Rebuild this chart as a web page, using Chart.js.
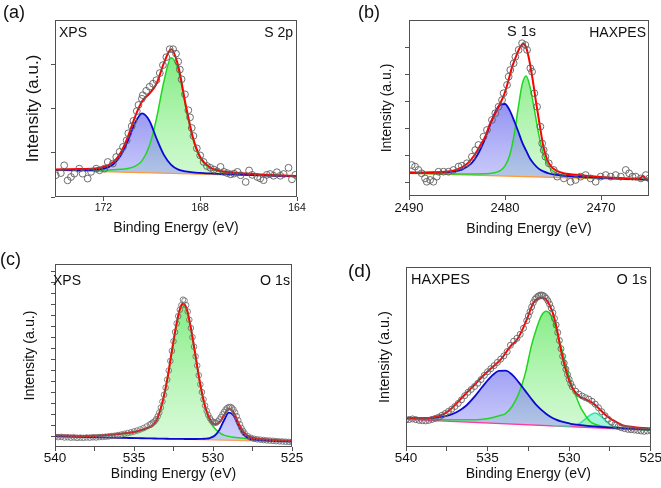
<!DOCTYPE html>
<html><head><meta charset="utf-8">
<script src="https://cdn.jsdelivr.net/npm/chart.js@4.4.1/dist/chart.umd.min.js"></script>
<style>
html,body{margin:0;padding:0;background:#fff;}
#wrap{position:relative;width:661px;height:488px;overflow:hidden;font-family:"Liberation Sans",Arial,sans-serif;color:#111;}
canvas{position:absolute;}
.lbl{position:absolute;line-height:1;white-space:nowrap;}
</style></head><body>
<div id="wrap">
<canvas id="ca" width="330" height="244" style="left:0;top:0"></canvas>
<canvas id="cb" width="331" height="244" style="left:330px;top:0"></canvas>
<canvas id="cc" width="330" height="244" style="left:0;top:244px"></canvas>
<canvas id="cd" width="331" height="244" style="left:330px;top:244px"></canvas>
<div class="lbl" style="left:3px;top:3px;font-size:18px">(a)</div>
<div class="lbl" style="left:59px;top:25px;font-size:14px">XPS</div>
<div class="lbl" style="right:368px;top:25px;font-size:14px">S 2p</div>
<div class="lbl" style="left:358px;top:3px;font-size:18px">(b)</div>
<div class="lbl" style="left:507px;top:23.5px;font-size:14.5px">S 1s</div>
<div class="lbl" style="right:15px;top:25px;font-size:14px">HAXPES</div>
<div class="lbl" style="left:0px;top:250px;font-size:18px">(c)</div>
<div class="lbl" style="left:53px;top:273px;font-size:14px">XPS</div>
<div class="lbl" style="right:371px;top:273px;font-size:14.2px">O 1s</div>
<div class="lbl" style="left:348px;top:260.5px;font-size:19px">(d)</div>
<div class="lbl" style="left:411px;top:272px;font-size:14.5px">HAXPES</div>
<div class="lbl" style="right:14px;top:272px;font-size:14.5px">O 1s</div>
</div>
<script>
// ---------- (a) XPS S 2p ----------
const aFitX  = [174,173,172.4,172,171.6,171.3,171.0,170.7,170.4,170.1,169.8,169.5,169.2,168.9,168.6,168.3,168.0,167.6,167.2,166.5,165.5,164];
const aBlue  = [15.3,15.25,15.4,16.0,18.4,23.1,31.4,41.6,47.2,43.1,32.9,23.8,18.2,15.5,14.5,13.9,13.6,13.3,13.0,12.65,12.2,11.6];
const aGreen = [15.3,15.15,15.14,15.2,15.36,15.65,16.15,17.35,20.54,28.94,44.73,65.23,78.62,71.32,50.81,32.7,21.9,16.26,14.42,13.38,12.52,11.8];
const aRed   = [15.6,15.75,16.08,16.94,19.56,24.65,33.55,45.05,54.04,58.44,64.13,75.63,83.52,73.62,52.15,33.6,22.6,16.8,14.82,13.65,12.69,11.9];
const aBaseX = [174,164];
const aBase  = [15.0,11.5];
const aDataX = [173.97,173.76,173.62,173.48,173.34,173.2,173.0,172.86,172.65,172.51,172.3,172.16,171.96,171.82,171.61,171.47,171.33,171.19,171.04,170.97,170.83,170.76,170.62,170.55,170.41,170.37,170.23,170.09,169.95,169.81,169.67,169.54,169.4,169.26,169.12,169.0,168.91,168.84,168.77,168.63,168.49,168.42,168.35,168.28,168.14,168.0,167.86,167.72,167.58,167.44,167.3,167.16,167.02,166.88,166.74,166.6,166.46,166.33,166.12,165.98,165.85,165.64,165.52,165.38,165.25,165.11,164.97,164.83,164.69,164.55,164.35,164.21,164.07];
const aDataY = [12.3,13.5,17.9,9.4,11.3,13.2,16.0,13.2,10.4,14.2,16.0,15.1,16.0,19.8,18.9,22.6,25.5,28.3,32.0,36.0,40.0,43.0,48.5,52.0,55.5,57.5,60.0,62.3,64.0,66.0,70.0,74.5,79.0,83.5,83.5,81.0,76.5,72.0,66.5,58.0,49.0,45.0,39.0,34.5,27.5,23.5,19.8,17.5,16.5,15.5,14.5,17.0,14.2,13.5,12.8,13.2,14.2,12.3,8.5,15.0,12.5,11.3,10.5,9.5,12.5,13.0,12.0,14.0,12.0,13.0,16.5,10.0,12.5];
const aXTicks = [172,168,164];
const aXLabels = [172,168,164];
const aYTicks = [0,25,50,75];

// ---------- (b) HAXPES S 1s ----------
const bFitX  = [2490,2488,2486.5,2485.5,2484.5,2483.5,2482.8,2482.2,2481.6,2481.0,2480.5,2480.0,2479.5,2479.0,2478.6,2478.2,2477.8,2477.4,2477.0,2476.5,2476.0,2475.4,2474.6,2473.5,2472,2470,2467.5,2465];
const bBlue  = [13.35,13.3,13.4,13.79,14.96,18.51,24.01,30.91,39.72,47.83,51.96,52.28,48.5,42.03,36.37,30.31,25.75,21.28,18.32,15.55,13.97,12.78,11.96,11.29,10.82,10.31,9.77,9.29];
const bGreen = [13.03,12.78,12.63,12.56,12.49,12.5,12.56,12.68,12.82,13.33,14.36,17.08,23.3,36.33,50.87,63.61,68.15,62.08,50.92,35.45,23.57,16.38,12.86,11.59,10.85,10.28,9.73,9.27];
const bRedX  = [2490,2488,2486,2485,2484,2483.3,2482.6,2482.0,2481.6,2481.2,2480.6,2480.1,2479.7,2479.3,2478.8,2478.4,2478.1,2477.8,2477.5,2477.1,2476.8,2476.3,2476.0,2475.6,2475.2,2474.7,2473.9,2472,2470.4,2467,2466.0,2465.6,2465.3,2465.0];
const bRed   = [13.2,13.4,13.9,15.0,18.0,22.3,28.5,34.5,40.5,45.0,51.5,57.5,64.5,72.5,80.0,84.8,86.5,84.5,78.0,65.5,54.5,37.5,28.0,20.6,16.8,14.5,12.9,11.8,11.0,10.0,9.9,11.3,9.6,9.4];
const bBaseX = [2490,2465];
const bBase  = [12.9,9.1];
const bDataX = [2489.72,2489.37,2489.02,2488.68,2488.33,2488.15,2487.8,2487.46,2487.11,2486.93,2486.41,2485.89,2485.37,2484.84,2484.5,2483.97,2483.45,2483.1,2482.76,2482.24,2481.88,2481.36,2481.01,2480.67,2480.31,2480.15,2479.79,2479.62,2479.45,2479.1,2478.92,2478.58,2478.22,2477.88,2477.7,2477.36,2477.18,2476.94,2476.66,2476.31,2476.13,2475.97,2475.79,2475.44,2474.92,2474.56,2473.87,2473.17,2472.65,2472.13,2471.6,2471.08,2470.56,2470.03,2469.51,2468.99,2468.47,2467.94,2467.42,2467.07,2466.72,2466.38,2465.85,2465.33,2464.98];
const bDataY = [17.6,16.7,14.8,12.9,10.0,8.1,9.1,8.1,11.0,13.8,13.8,13.8,14.8,16.7,17.2,18.6,22.3,26.1,29.0,33.7,37.5,43.2,47.0,50.7,54.5,58.4,63.1,67.8,71.6,75.4,79.1,83.0,86.8,85.8,83.0,72.6,70.6,58.4,50.7,39.4,29.9,26.1,22.3,18.6,14.8,11.0,10.0,8.1,9.1,11.0,11.9,10.0,8.1,11.0,11.9,11.0,11.9,11.0,14.8,12.9,11.0,11.0,10.0,11.9,10.0];
const bXTicks = [2490,2480,2470];
const bXLabels = [2490,2480,2470];
const bYTicks = [7.6,22.9,38.4,53.6,69.1,84.3];

// ---------- (c) XPS O 1s ----------
const cFitX  = [540,538,536.5,535.5,534.8,534.2,533.7,533.3,532.9,532.6,532.3,532.05,531.88,531.65,531.4,531.1,530.8,530.5,530.2,529.9,529.6,529.3,529.0,528.7,528.4,528.1,527.7,527.2,526.5,525];
const cGreen = [6.1,6.2,6.6,7.4,8.3,10.2,12.7,21.2,36.6,52.5,67.6,76.5,78.2,74.9,64.8,49.2,33.6,21.8,14.3,10.2,7.9,6.5,5.8,5.3,5.0,4.8,4.5,4.2,3.8,3.3];
const cBlue  = [5.82,5.43,5.15,4.96,4.83,4.73,4.64,4.57,4.5,4.47,4.43,4.4,4.39,4.37,4.37,4.37,4.39,4.5,4.9,6.15,9.29,14.63,18.77,17.21,11.86,7.2,4.58,3.75,3.42,2.99];
const cRed   = [6.4,6.0,6.7,7.6,8.6,10.3,12.8,21.27,36.7,52.6,67.7,76.6,78.4,75.1,65.0,49.5,34.0,22.3,15.3,12.5,13.4,17.4,20.9,18.9,13.3,8.5,5.6,4.6,4.1,3.4];
const cBaseX = [540,525];
const cBase  = [5.8,2.9];
const cDataX = [540.0,539.8,539.6,539.4,539.2,539.0,538.8,538.6,538.4,538.2,538.0,537.8,537.6,537.4,537.2,537.0,536.8,536.6,536.4,536.2,536.0,535.8,535.6,535.4,535.2,535.0,534.8,534.6,534.4,534.2,534.0,
 533.9,533.8,533.7,533.6,533.5,533.4,533.3,533.2,533.1,533.0,532.9,532.8,532.7,532.6,532.5,532.4,532.3,532.2,532.1,532.0,531.9,531.8,531.7,531.6,531.5,531.4,531.3,531.2,531.1,531.0,530.9,530.8,530.7,530.6,530.5,530.4,530.3,530.2,530.1,530.0,529.9,529.8,529.7,529.6,529.5,529.4,529.3,529.2,529.1,529.0,528.9,528.8,528.7,528.6,528.5,528.4,528.3,528.2,528.1,528.0,
 527.8,527.6,527.4,527.2,527.0,526.8,526.6,526.4,526.2,526.0,525.8,525.6,525.4,525.2,525.0];
const cDataY = [5.6,5.4,5.5,5.2,5.3,5.1,5.2,5.0,5.1,5.0,5.2,5.1,5.3,5.2,5.4,5.5,5.6,5.8,6.0,6.2,6.5,6.8,7.2,7.6,8.0,8.5,9.0,9.6,10.3,11.2,12.3,
 12.8,13.4,14.0,15.2,16.8,18.8,21.5,24.8,28.5,32.4,36.8,41.8,47.0,52.5,57.8,62.8,67.5,71.5,75.0,77.5,80.5,80.0,77.5,74.0,69.5,65.0,60.0,54.8,49.5,44.5,39.2,34.2,30.0,26.0,22.6,19.8,17.5,15.8,14.5,13.6,13.2,13.3,14.0,15.0,16.3,17.8,19.2,20.4,21.3,21.8,21.9,21.4,20.4,18.8,16.8,14.6,12.4,10.4,8.8,7.5,
 5.9,5.0,4.5,4.2,4.0,3.8,3.6,3.5,3.4,3.2,3.1,3.0,2.9,2.8,2.8];
const cXTicks = [540,537.5,535,532.5,530,527.5,525];
const cXLabels = [540,535,530,525];
const cYTicks = [5.8,11.8,17.8,23.8,29.8,35.8,41.8,47.8,53.8,59.8,65.8,71.8,77.8,83.8,89.8,95.8];

// ---------- (d) HAXPES O 1s ----------
const dFitX  = [540,539,538,537.3,536.8,536.3,535.8,535.3,534.8,534.3,533.9,533.5,533.1,532.7,532.3,532.0,531.7,531.4,531.1,530.8,530.5,530.2,529.9,529.6,529.3,529.0,528.7,528.4,528.1,527.8,527.4,527.0,526.5,526,525];
const dBlue  = [16.01,15.96,16.42,17.83,19.87,23.07,27.96,33.66,38.96,42.26,42.4,40.23,36.07,31.31,26.55,23.23,20.6,18.38,16.56,15.2,14.22,13.49,12.9,12.49,12.13,11.89,11.62,11.41,11.2,11.03,10.8,10.61,10.36,10.09,9.63];
const dGreen = [15.77,15.47,15.25,15.16,15.09,15.07,15.16,15.36,16.06,17.36,18.6,22.5,29.5,40.5,56.75,65.83,73.0,75.38,72.76,65.34,56.02,45.99,36.07,28.65,22.0,17.5,14.0,12.6,11.8,11.3,10.8,10.5,10.2,9.95,9.5];
const dThirdX = [531.0,530.5,530.2,529.9,529.6,529.3,529.0,528.7,528.4,528.1,527.8,527.4,527.0,526.5,526,525];
const dThird  = [11.87,11.74,11.72,11.83,12.3,13.43,15.61,17.89,18.87,17.35,14.78,11.97,10.77,10.2,9.86,9.38];
const dRedX  = [540,539,538.3,537.8,537.3,536.8,536.3,535.8,535.3,534.8,534.2,533.6,533.2,532.9,532.6,532.2,531.9,531.65,531.4,531.2,531.0,530.75,530.55,530.35,530.15,529.95,529.75,529.35,528.95,528.55,528.1,527.7,527.3,526.7,526.0,525.7,525.0];
const dRed   = [16.1,16.0,16.5,17.8,20.7,25.2,30.0,34.6,39.3,43.6,48.5,55.9,59.6,64.5,70.7,80.0,82.5,82.8,81.9,78.8,74.4,65.5,55.9,47.8,41.1,35.8,31.9,28.1,26.3,24.4,20.7,17.2,14.8,12.0,11.0,10.7,10.2];
const dBaseX = [540,525];
const dBase  = [15.36,9.3];
const dDataX = [540.0,539.8,539.6,539.4,539.2,539.0,538.8,538.6,538.4,538.2,538.0,537.8,537.6,537.4,537.2,537.0,536.8,536.6,536.4,536.2,536.0,535.8,535.6,535.4,535.2,535.0,534.8,534.6,534.4,534.2,534.0,533.8,533.6,533.4,533.2,533.0,532.8,532.6,532.5,532.4,532.3,532.2,532.1,532.0,531.9,531.8,531.7,531.6,531.5,531.4,531.3,531.2,531.1,531.0,530.9,530.8,530.7,530.6,530.5,530.4,530.3,530.2,530.1,530.0,529.9,529.8,529.6,529.4,529.2,529.0,528.8,528.6,528.4,528.2,528.0,527.8,527.6,527.4,527.2,527.0,526.8,526.6,526.4,526.2,526.0,525.8,525.6,525.4,525.2,525.0];
const dDataY = [15.0,15.3,15.6,15.2,14.8,14.6,14.5,14.8,15.3,15.9,16.6,17.6,18.6,19.8,21.0,22.5,24.2,26.2,28.5,30.4,32.0,33.6,35.4,37.5,39.8,41.8,43.5,45.2,47.0,48.8,50.6,53.0,56.5,58.8,60.4,62.6,66.0,70.2,72.8,75.2,77.8,80.2,82.0,83.0,83.8,84.3,84.5,84.2,83.6,82.6,81.2,79.4,77.2,74.6,71.4,67.8,63.6,59.2,54.6,50.4,46.6,43.2,40.3,37.6,35.2,33.4,31.0,29.4,28.3,27.4,26.6,25.4,23.8,21.8,19.6,17.4,15.4,13.8,12.4,11.4,10.7,10.2,9.8,9.6,9.4,9.2,8.9,8.7,8.9,9.2];
const dXTicks = [540,537.5,535,532.5,530,527.5,525];
const dXLabels = [540,535,530,525];

// ---------- drawing ----------
const FONT = '"Liberation Sans", Arial, sans-serif';
Chart.defaults.font.family = FONT;
Chart.defaults.color = '#111';
function pts(xs, ys) { return xs.map((x, i) => ({ x: x, y: ys[i] })); }
function vgrad(c0, c1) {
  return function (ctx) {
    const ch = ctx.chart, a = ch.chartArea;
    if (!a) return c1;
    const g = ch.ctx.createLinearGradient(0, a.top, 0, a.bottom);
    g.addColorStop(0, c0); g.addColorStop(1, c1);
    return g;
  };
}
const framePlugin = {
  id: 'frame',
  afterDatasetsDraw(chart) {
    const a = chart.chartArea, c = chart.ctx;
    c.save(); c.strokeStyle = '#505050'; c.lineWidth = 1;
    c.strokeRect(Math.round(a.left) + 0.5, Math.round(a.top) + 0.5, Math.round(a.right - a.left) - 1, Math.round(a.bottom - a.top) - 1);
    c.restore();
  }
};
function panel(id, o) {
  const ds = [];
  ds.push({ data: pts(o.dataX, o.dataY), showLine: false, pointRadius: o.r, pointBorderWidth: 1,
    pointBorderColor: o.dotColor, pointBackgroundColor: 'rgba(0,0,0,0)', pointHoverRadius: 0 });
  ds.push({ data: pts(o.redX, o.red), borderColor: '#ff0000', borderWidth: 2, pointRadius: 0, fill: false, cubicInterpolationMode: 'monotone' });
  const filled = [];
  filled.push({ data: pts(o.fitX, o.blue), borderColor: '#0a0ad0', borderWidth: 1.8, pointRadius: 0, cubicInterpolationMode: 'monotone',
    backgroundColor: vgrad('rgba(40,40,225,0.9)', 'rgba(170,170,250,0.5)') });
  filled.push({ data: pts(o.fitX, o.green), borderColor: '#1ed81e', borderWidth: 1.5, pointRadius: 0, cubicInterpolationMode: 'monotone',
    backgroundColor: vgrad('rgba(60,225,60,0.8)', 'rgba(175,245,175,0.45)') });
  if (o.thirdX) filled.push({ data: pts(o.thirdX, o.third), borderColor: '#2ee6a4', borderWidth: 1.5, pointRadius: 0, cubicInterpolationMode: 'monotone',
    backgroundColor: 'rgba(90,235,195,0.55)' });
  filled.forEach(d => ds.push(d));
  const baseIndex = ds.length;
  filled.forEach(d => { d.fill = baseIndex; });
  ds.push({ data: pts(o.baseX, o.base), borderColor: o.baseColor, borderWidth: 1.3, pointRadius: 0, fill: false });

  const yScale = {
    type: 'linear', min: 0, max: 100,
    afterFit: s => { s.width = o.yW; },
    ticks: { display: false },
    grid: { display: true, drawOnChartArea: false, drawTicks: !!o.yTicks, tickLength: 4, color: '#505050' },
    border: { display: false },
    title: { display: true, text: 'Intensity (a.u.)', font: { size: o.yTitleSize, family: FONT }, color: '#111', padding: { top: o.yTitlePad, bottom: 0 } }
  };
  if (o.yTicks) yScale.afterBuildTicks = s => { s.ticks = o.yTicks.map(v => ({ value: v })); };

  new Chart(document.getElementById(id), {
    type: 'line',
    data: { datasets: ds },
    plugins: [framePlugin],
    options: {
      responsive: false, animation: false, devicePixelRatio: 1,
      layout: { padding: { top: o.padTop, right: o.padRight, left: 0, bottom: 0 } },
      plugins: { legend: { display: false }, tooltip: { enabled: false }, filler: { drawTime: 'beforeDatasetsDraw' } },
      scales: {
        x: {
          type: 'linear', reverse: true, min: o.xmin, max: o.xmax,
          afterBuildTicks: s => { s.ticks = o.xTicks.map(v => ({ value: v })); },
          afterFit: s => { s.height = o.xH; },
          ticks: { font: { size: o.tickSize, family: FONT }, color: '#111', padding: o.tickPad, maxRotation: 0, autoSkip: false,
            callback: v => (o.xLabels.indexOf(v) >= 0 ? String(v) : '') },
          grid: { display: true, drawOnChartArea: false, drawTicks: true, tickLength: 4, color: '#505050' },
          border: { display: false },
          title: { display: true, text: 'Binding Energy (eV)', font: { size: 14, family: FONT }, color: '#111', padding: { top: 0, bottom: o.xTitlePad } }
        },
        y: yScale
      }
    }
  });
}

panel('ca', { dataX: aDataX, dataY: aDataY, redX: aFitX, red: aRed, fitX: aFitX, blue: aBlue, green: aGreen,
  baseX: aBaseX, base: aBase, baseColor: '#ff9a3c', r: 3.4, dotColor: 'rgba(95,95,95,0.9)',
  xmin: 164, xmax: 174, xTicks: aXTicks, xLabels: aXLabels, yTicks: aYTicks, padTop: 20, padRight: 33, yW: 55, xH: 47,
  tickSize: 10.5, tickPad: 1, xTitlePad: 7.3, yTitleSize: 17, yTitlePad: 22.8 });

panel('cb', { dataX: bDataX, dataY: bDataY, redX: bRedX, red: bRed, fitX: bFitX, blue: bBlue, green: bGreen,
  baseX: bBaseX, base: bBase, baseColor: '#ff9a3c', r: 3.4, dotColor: 'rgba(95,95,95,0.9)',
  xmin: 2465, xmax: 2490, xTicks: bXTicks, xLabels: bXLabels, yTicks: bYTicks, padTop: 20, padRight: 12, yW: 79, xH: 48,
  tickSize: 13, tickPad: 1, xTitlePad: 6.3, yTitleSize: 14, yTitlePad: 48.9 });

panel('cc', { dataX: cDataX, dataY: cDataY, redX: cFitX, red: cRed, fitX: cFitX, blue: cBlue, green: cGreen,
  baseX: cBaseX, base: cBase, baseColor: '#ffa060', r: 2.8, dotColor: 'rgba(110,110,110,0.85)',
  xmin: 525, xmax: 540, xTicks: cXTicks, xLabels: cXLabels, yTicks: cYTicks, padTop: 20, padRight: 38, yW: 55, xH: 41,
  tickSize: 13.5, tickPad: -1, xTitlePad: 5.5, yTitleSize: 14.2, yTitlePad: 21.5 });

panel('cd', { dataX: dDataX, dataY: dDataY, redX: dRedX, red: dRed, fitX: dFitX, blue: dBlue, green: dGreen,
  thirdX: dThirdX, third: dThird,
  baseX: dBaseX, base: dBase, baseColor: '#ff3aa0', r: 3.0, dotColor: 'rgba(100,100,100,0.9)',
  xmin: 525, xmax: 540, xTicks: dXTicks, xLabels: dXLabels, yTicks: null, padTop: 23, padRight: 10, yW: 76, xH: 41,
  tickSize: 13.5, tickPad: -1, xTitlePad: 5.5, yTitleSize: 14.5, yTitlePad: 46.3 });
</script>
</body></html>
